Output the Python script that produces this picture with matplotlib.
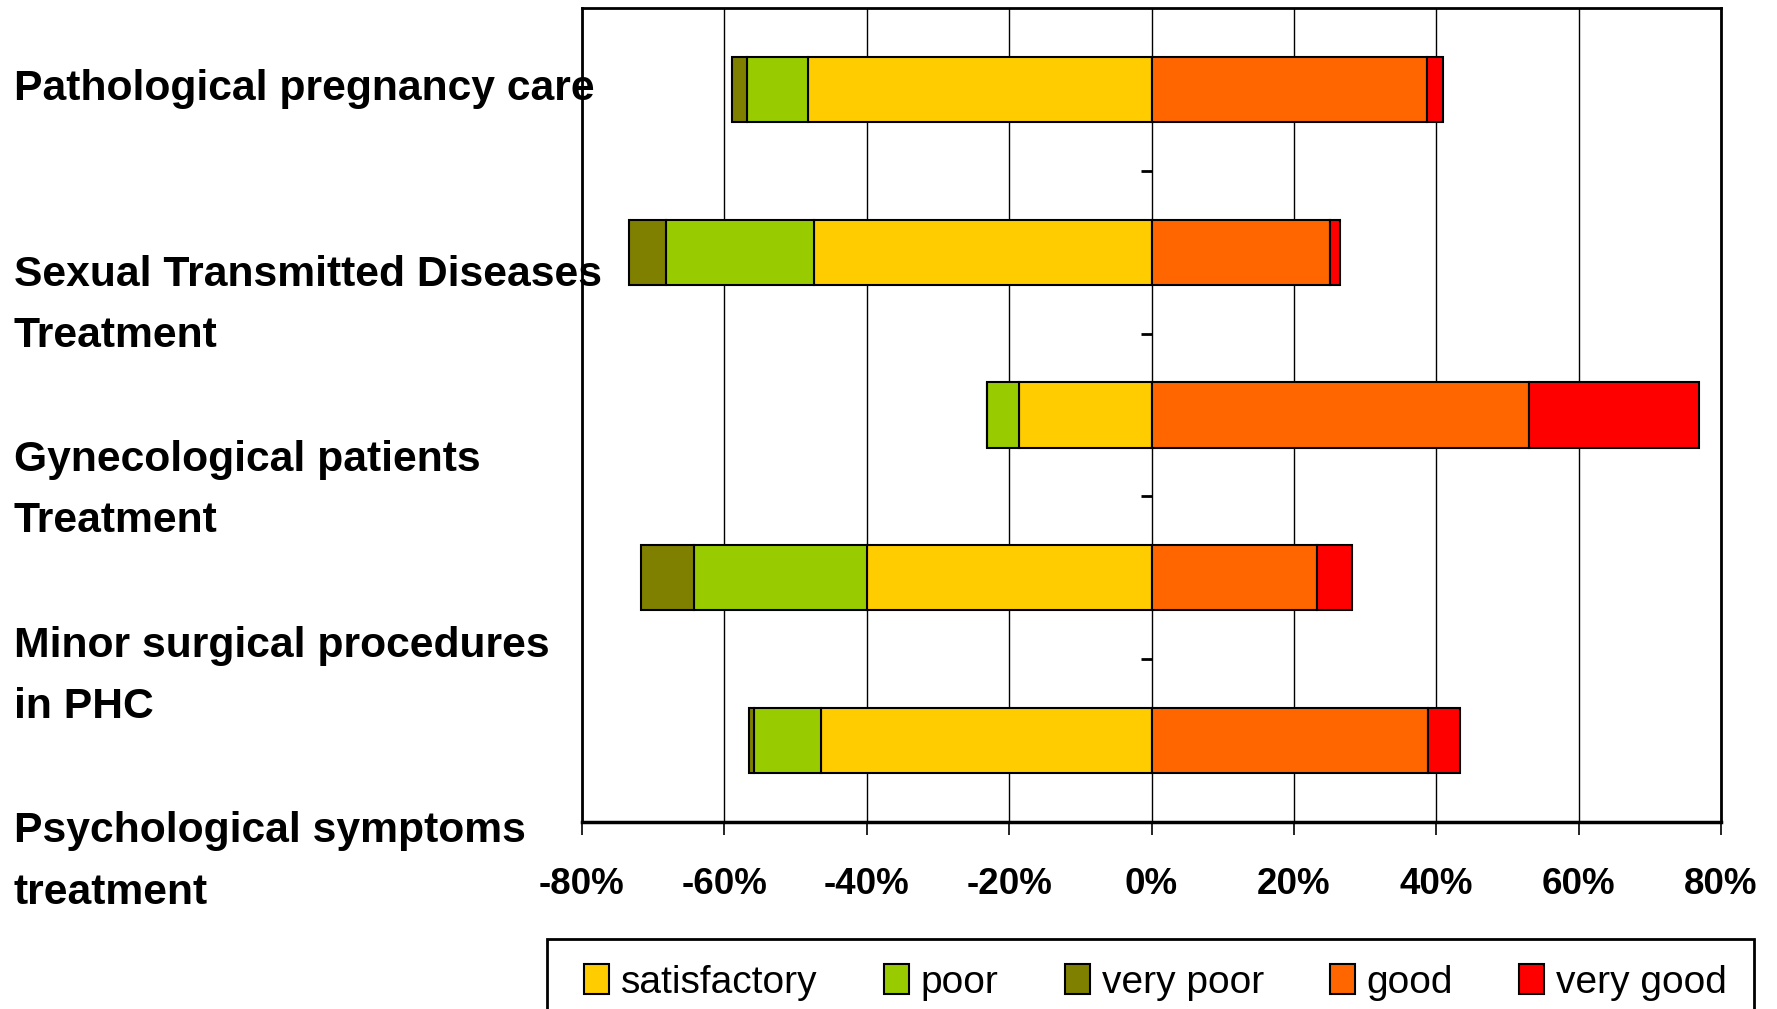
import matplotlib
matplotlib.use("Agg")
import matplotlib.pyplot as plt
import numpy as np
from matplotlib.patches import Patch, Rectangle

categories = [
    "Pathological pregnancy care",
    "Sexual Transmitted Diseases\nTreatment",
    "Gynecological patients\nTreatment",
    "Minor surgical procedures\nin PHC",
    "Psychological symptoms\ntreatment",
]

# percentages (negative side: satisfactory, poor, very poor)
satisfactory = [48.2, 47.4, 18.6, 40.0, 46.4]
poor = [8.6, 20.8, 4.5, 24.3, 9.5]
very_poor = [2.1, 5.2, 0.0, 7.4, 0.7]
good = [38.7, 25.1, 53.0, 23.2, 38.9]
very_good = [2.2, 1.4, 23.9, 4.9, 4.5]

x_ticks = [-80, -60, -40, -20, 0, 20, 40, 60, 80]

colors = {
    "satisfactory": "#FFCC00",
    "poor": "#99CC00",
    "very poor": "#808000",
    "good": "#FF6600",
    "very good": "#FF0000",
}

W, H = 1777, 1009
fig = plt.figure(figsize=(W / 100, H / 100), dpi=100)
ax = fig.add_axes([582 / W, 1 - 822 / H, 1139 / W, 814 / H])

y = np.arange(len(categories))
h = 0.4
sat = np.array(satisfactory)
pr = np.array(poor)
vp = np.array(very_poor)
gd = np.array(good)
vg = np.array(very_good)

kw = dict(height=h, edgecolor="black", linewidth=1.5, zorder=3)
ax.barh(y, -sat, color=colors["satisfactory"], **kw)
ax.barh(y, -pr, left=-sat, color=colors["poor"], **kw)
ax.barh(y, -vp, left=-sat - pr, color=colors["very poor"], **kw)
ax.barh(y, gd, color=colors["good"], **kw)
ax.barh(y, vg, left=gd, color=colors["very good"], **kw)

ax.set_xlim(-80, 80)
ax.set_ylim(len(categories) - 0.5, -0.5)
ax.set_xticks(x_ticks)
ax.set_xticklabels([f"{t}%" for t in x_ticks], family="Liberation Sans",
                   fontweight="bold", fontsize=26.5)
ax.tick_params(axis="x", direction="out", length=9.5, width=1.2, pad=23)
ax.set_yticks([])
ax.grid(axis="x", color="black", linewidth=1, zorder=0)

# small category-boundary ticks on the zero line
bounds = np.arange(0.5, len(categories) - 0.5, 1.0)
ax.plot(np.zeros_like(bounds), bounds, linestyle="none", marker=0,
        markersize=8, markeredgewidth=2, color="black", zorder=4)

for side, lw in [("left", 2), ("bottom", 2.5), ("top", 2), ("right", 2)]:
    ax.spines[side].set_linewidth(lw)

# category labels sit at the far left, on their own spacing
first_y = 89
step = 185.5
line_gap = 61.5
for i, lab in enumerate(categories):
    for j, line in enumerate(lab.split("\n")):
        yy = first_y + i * step + j * line_gap
        fig.text(14 / W, 1 - yy / H, line, ha="left", va="center",
                 family="Liberation Sans", fontweight="bold", fontsize=30.7)

# legend box runs off the bottom edge of the picture
fig.patches.append(Rectangle((547 / W, -0.05), (1754 - 547) / W, 1 - 939 / H + 0.05,
                             transform=fig.transFigure, facecolor="none",
                             edgecolor="black", linewidth=2))
handles = [Patch(facecolor=c, edgecolor="black", linewidth=1.5) for c in colors.values()]
leg = fig.legend(handles, list(colors.keys()), loc="upper left",
                 bbox_to_anchor=(584 / W, 1 - 964 / H), ncol=5, frameon=False,
                 prop={"family": "Liberation Sans", "size": 28},
                 handlelength=0.64, handleheight=0.82, handletextpad=0.31,
                 columnspacing=1.7, borderpad=0, borderaxespad=0)

fig.savefig("out.png", dpi=100)
